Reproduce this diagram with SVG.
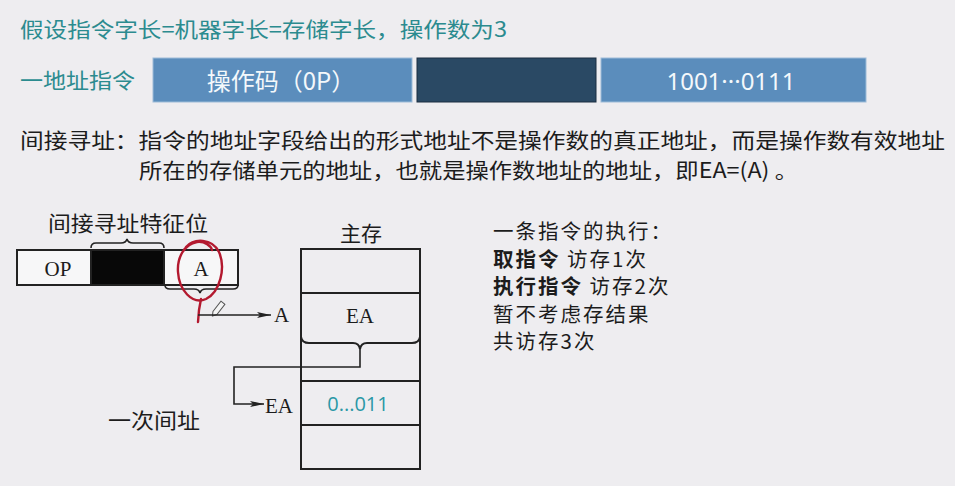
<svg xmlns="http://www.w3.org/2000/svg" width="955" height="486" viewBox="0 0 955 486">
  <defs>
    <style>
      .teal { fill: #2b8b8f; font-family: "Noto Sans CJK SC", "Noto Sans", sans-serif; }
      .cjk { fill: #1c1c1c; font-family: "Noto Sans CJK SC", "Noto Sans", sans-serif; }
      .serif { fill: #1c1c1c; font-family: "Liberation Serif", "Noto Sans CJK SC", serif; }
      .bar { fill: #f4f8fb; font-size: 24px; text-anchor: middle; }
      .ln { fill: none; stroke: #222; stroke-width: 2; }
      .thin { fill: none; stroke: #222; stroke-width: 1.6; }
      .pen { fill: none; stroke: #b3192f; stroke-width: 2.4; stroke-linecap: round; stroke-linejoin: round; }
    </style>
    <marker id="arrow" viewBox="0 0 14 6" refX="14" refY="3" markerWidth="14" markerHeight="6" markerUnits="userSpaceOnUse" orient="auto">
      <path d="M0,0 L14,3 L0,6 L3,3 Z" fill="#222"/>
    </marker>
  </defs>

  <rect x="0" y="0" width="955" height="486" fill="#eeedf0"/>

  <!-- heading -->
  <text class="teal" x="20" y="37" font-size="21" textLength="487" lengthAdjust="spacingAndGlyphs">假设指令字长=机器字长=存储字长，操作数为3</text>

  <!-- one-address instruction format bar -->
  <g id="instr-format">
    <text class="teal" x="20" y="88" font-size="21" textLength="115" lengthAdjust="spacingAndGlyphs">一地址指令</text>
    <rect x="153" y="58" width="259" height="44" fill="#5b8dbc" stroke="#9dbcd8" stroke-width="1"/>
    <text class="bar" x="281" y="90" style="font-family: 'Noto Sans CJK SC', 'Noto Sans', sans-serif">操作码（0P）</text>
    <rect x="417" y="58" width="179" height="44" fill="#2a4964" stroke="#1a2e40" stroke-width="1"/>
    <rect x="601" y="58" width="265" height="44" fill="#5b8dbc" stroke="#9dbcd8" stroke-width="1"/>
    <text class="bar" x="731" y="90" style="font-family: 'Noto Sans', 'Liberation Sans', sans-serif">1001···0111</text>
  </g>

  <!-- definition -->
  <g id="definition">
    <text class="cjk" x="20" y="148" font-size="21" textLength="925" lengthAdjust="spacingAndGlyphs">间接寻址：指令的地址字段给出的形式地址不是操作数的真正地址，而是操作数有效地址</text>
    <text class="cjk" x="139" y="178" font-size="21" textLength="659" lengthAdjust="spacingAndGlyphs">所在的存储单元的地址，也就是操作数地址的地址，即EA=(A) 。</text>
  </g>

  <!-- instruction word with indirect flag -->
  <g id="instruction">
    <text class="cjk" x="48" y="231" font-size="21" textLength="160" lengthAdjust="spacingAndGlyphs">间接寻址特征位</text>
    <path class="thin" d="M91,248 Q91,243 96,243 L121,243 Q126,243 127,239 Q128,243 133,243 L159,243 Q164,243 164,248"/>
    <rect x="17" y="250" width="221" height="35" fill="#f7f7f8" stroke="#222" stroke-width="2"/>
    <rect x="91" y="250" width="73" height="35" fill="#080808" stroke="#222" stroke-width="2"/>
    <text class="serif" x="58" y="276" font-size="21" text-anchor="middle">OP</text>
    <text class="serif" x="201" y="276" font-size="21" text-anchor="middle">A</text>
    <path class="thin" d="M165,285 Q165,289 170,289 L194,289 Q199,289 200,293 Q201,289 206,289 L233,289 Q238,289 238,285"/>
  </g>

  <!-- hand-drawn mark -->
  <g id="annotation">
    <path class="pen" d="M186,247 C194,238 212,238 219,252 C226,268 220,292 206,299 C192,305 179,290 178,272 C177,258 184,244 197,242 C205,241 211,246 212,250"/>
    <path class="pen" d="M201,299 L199,310 L198,322"/>
    <g transform="translate(218,309) rotate(38)">
      <path d="M-2.5,-8 L2.5,-8 L2.5,5 L0,9 L-2.5,5 Z" fill="#f4f4f4" stroke="#555" stroke-width="1"/>
    </g>
  </g>

  <!-- main memory -->
  <g id="memory">
    <text class="cjk" x="361" y="241" font-size="21" text-anchor="middle">主存</text>
    <rect x="301" y="249" width="119" height="220" fill="none" stroke="#222" stroke-width="2"/>
    <line class="ln" x1="301" y1="293" x2="420" y2="293"/>
    <line class="ln" x1="301" y1="381" x2="420" y2="381"/>
    <line class="ln" x1="301" y1="425" x2="420" y2="425"/>
    <text class="serif" x="360" y="323" font-size="21" text-anchor="middle">EA</text>
    <path class="ln" d="M301,337 Q302,343 309,343 L353,343 Q359,343 360,349 Q361,343 367,343 L412,343 Q419,343 420,337"/>
    <text x="358" y="411" font-size="20" text-anchor="middle" fill="#2a98a6" font-family="Open Sans, Liberation Sans, sans-serif">0...011</text>
  </g>

  <!-- address labels -->
  <g id="labels">
    <text class="serif" x="274" y="322" font-size="21">A</text>
    <text class="serif" x="265" y="413" font-size="21">EA</text>
    <text class="cjk" x="108" y="428" font-size="21" textLength="92" lengthAdjust="spacingAndGlyphs">一次间址</text>
  </g>

  <!-- connectors -->
  <g id="connectors">
    <path class="thin" d="M198,315 L271,315" marker-end="url(#arrow)"/>
    <path class="thin" d="M360,349 L360,367 L234,367 L234,404 L264,404" marker-end="url(#arrow)"/>
  </g>

  <!-- access count notes -->
  <g id="notes" class="cjk" font-size="20.5" letter-spacing="2">
    <text x="493" y="239">一条指令的执行：</text>
    <text x="493" y="266.5"><tspan font-weight="bold">取指令</tspan> 访存1次</text>
    <text x="493" y="294"><tspan font-weight="bold">执行指令</tspan> 访存2次</text>
    <text x="493" y="321.5">暂不考虑存结果</text>
    <text x="493" y="349">共访存3次</text>
  </g>
</svg>
